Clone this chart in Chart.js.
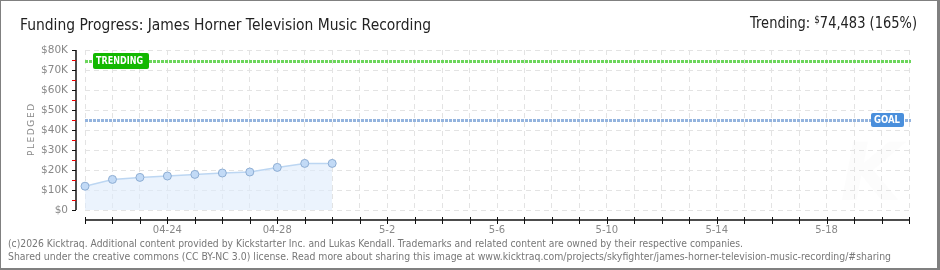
<!DOCTYPE html>
<html>
<head>
<meta charset="utf-8">
<script src="https://cdn.jsdelivr.net/npm/chart.js@4/dist/chart.umd.min.js"></script>
<style>
html,body{margin:0;padding:0;background:#fff;}
#wrap{position:relative;width:940px;height:270px;}
canvas{display:block;}
</style>
</head>
<body>
<div id="wrap"><canvas id="c" width="940" height="270"></canvas></div>
<script>
// ---- data ----
const days = ["04-21","04-22","04-23","04-24","04-25","04-26","04-27","04-28","04-29","04-30",
  "5-1","5-2","5-3","5-4","5-5","5-6","5-7","5-8","5-9","5-10","5-11","5-12","5-13","5-14",
  "5-15","5-16","5-17","5-18","5-19","5-20","5-21"];
const shownTicks = ["04-24","04-28","5-2","5-6","5-10","5-14","5-18"];
const pledged = [11900, 15300, 16300, 17000, 17800, 18500, 19000, 21300, 23300, 23300];
const goal = 45000;
const trending = 74483;
const trendingPct = 165;
const yTicks = [0,10000,20000,30000,40000,50000,60000,70000,80000];

const title = "Funding Progress: James Horner Television Music Recording";
const footer1 = "(c)2026 Kicktraq. Additional content provided by Kickstarter Inc. and Lukas Kendall. Trademarks and related content are owned by their respective companies.";
const footer2 = "Shared under the creative commons (CC BY-NC 3.0) license. Read more about sharing this image at www.kicktraq.com/projects/skyfighter/james-horner-television-music-recording/#sharing";

const AXIS_X = 76, XAXIS_Y = 220;

function roundRect(ctx,x,y,w,h,r){
  ctx.beginPath();
  ctx.moveTo(x+r,y);ctx.lineTo(x+w-r,y);ctx.quadraticCurveTo(x+w,y,x+w,y+r);
  ctx.lineTo(x+w,y+h-r);ctx.quadraticCurveTo(x+w,y+h,x+w-r,y+h);
  ctx.lineTo(x+r,y+h);ctx.quadraticCurveTo(x,y+h,x,y+h-r);
  ctx.lineTo(x,y+r);ctx.quadraticCurveTo(x,y,x+r,y);ctx.closePath();
}
function spacedText(ctx,text,x,y,sp){
  let cx=x;
  for(const ch of text){ctx.fillText(ch,cx,y);cx+=ctx.measureText(ch).width+sp;}
  return cx;
}
function spacedWidth(ctx,text,sp){let w=0;for(const ch of text){w+=ctx.measureText(ch).width+sp;}return w-sp;}
function fitText(ctx,text,x,y,w){
  const tw=ctx.measureText(text).width;
  if(tw<=w){ctx.fillText(text,x,y);return;}
  ctx.save();ctx.translate(x,y);ctx.scale(w/tw,1);ctx.fillText(text,0,0);ctx.restore();
}

const deco = {
  id:'deco',
  beforeDraw(chart){
    const ctx=chart.ctx;
    ctx.save();
    ctx.fillStyle='#fff';ctx.fillRect(0,0,940,270);
    // watermark
    ctx.font='italic bold 80px "DejaVu Sans"';
    ctx.fillStyle='rgba(0,0,0,0.012)';
    ctx.fillText('K',840,200);
    // title
    ctx.fillStyle='#222';
    ctx.font='16px "DejaVu Sans"';
    ctx.textBaseline='alphabetic';
    fitText(ctx,title,20,30,411);
    // trending top right
    const p1='Trending: ', p2=trending.toLocaleString('en-US')+' ('+trendingPct+'%)';
    ctx.font='10px "DejaVu Sans"';
    const wd=ctx.measureText('$').width;
    ctx.font='15px "DejaVu Sans"';
    const w1=ctx.measureText(p1).width, w2=ctx.measureText(p2).width;
    const total=w1+wd+w2, scale=Math.min(1,167/total);
    ctx.save();
    ctx.translate(917-total*scale,28);ctx.scale(scale,1);
    ctx.fillText(p1,0,0);
    ctx.font='10px "DejaVu Sans"';ctx.fillText('$',w1,-5);
    ctx.font='15px "DejaVu Sans"';ctx.fillText(p2,w1+wd,0);
    ctx.restore();
    // footer
    ctx.fillStyle='#777';
    ctx.font='10px "DejaVu Sans"';
    fitText(ctx,footer1,8,247,735);
    fitText(ctx,footer2,8,260,883);
    // y axis title
    ctx.save();
    ctx.translate(34,130);ctx.rotate(-Math.PI/2);
    ctx.font='9px "DejaVu Sans"';ctx.fillStyle='#888';
    const tw=spacedWidth(ctx,'PLEDGED',1.6);
    spacedText(ctx,'PLEDGED',-tw/2,0,1.6);
    ctx.restore();
    ctx.restore();
  },
  beforeDatasetsDraw(chart){
    const ctx=chart.ctx, ca=chart.chartArea, y=chart.scales.y;
    ctx.save();
    const lines=[[trending,'#6cd65c'],[goal,'#94b4de']];
    for(const [v,col] of lines){
      const py=Math.round(y.getPixelForValue(v));
      ctx.strokeStyle=col;ctx.lineWidth=3;ctx.setLineDash([3,1]);
      ctx.beginPath();ctx.moveTo(ca.left,py+0.5);ctx.lineTo(ca.right+2,py+0.5);ctx.stroke();
    }
    ctx.restore();
  },
  afterDatasetsDraw(chart){
    const ctx=chart.ctx, ca=chart.chartArea, y=chart.scales.y, x=chart.scales.x;
    ctx.save();
    ctx.setLineDash([]);
    // labels
    const ty=Math.round(y.getPixelForValue(trending));
    ctx.fillStyle='#12b800';
    roundRect(ctx,93,ty-8,56,16,2);ctx.fill();
    ctx.fillStyle='#fff';ctx.font='bold 10px "DejaVu Sans"';ctx.textBaseline='middle';
    fitText(ctx,'TRENDING',96,ty+0.5,47);
    const gy=Math.round(y.getPixelForValue(goal));
    ctx.fillStyle='#4a8fdc';
    roundRect(ctx,871,gy-7,33,14,2);ctx.fill();
    ctx.fillStyle='#fff';
    fitText(ctx,'GOAL',874,gy+0.5,26);
    // y axis
    ctx.strokeStyle='#111';ctx.lineWidth=1.5;
    ctx.beginPath();ctx.moveTo(AXIS_X,y.getPixelForValue(80000));ctx.lineTo(AXIS_X,y.getPixelForValue(0));ctx.stroke();
    ctx.lineWidth=1;
    for(let v=0; v<=80000; v+=5000){
      const py=Math.round(y.getPixelForValue(v))+0.5;
      ctx.strokeStyle=(v%10000===0)?'#111':'#e00';
      ctx.beginPath();ctx.moveTo(AXIS_X-4,py);ctx.lineTo(AXIS_X,py);ctx.stroke();
    }
    // x axis
    ctx.strokeStyle='#111';ctx.lineWidth=1.5;
    const x0=x.getPixelForValue(0), x1=x.getPixelForValue(days.length-1);
    ctx.beginPath();ctx.moveTo(x0,XAXIS_Y);ctx.lineTo(x1+1,XAXIS_Y);ctx.stroke();
    ctx.lineWidth=1;
    for(let i=0;i<days.length;i++){
      const px=Math.round(x.getPixelForValue(i))+0.5;
      ctx.beginPath();ctx.moveTo(px,XAXIS_Y-3);ctx.lineTo(px,XAXIS_Y+4);ctx.stroke();
    }
    // frame
    ctx.fillStyle='#808080';
    ctx.fillRect(0,0,940,1);ctx.fillRect(0,0,1,270);
    ctx.fillRect(937,0,3,270);ctx.fillRect(0,268,940,2);
    ctx.restore();
  }
};

new Chart(document.getElementById('c'),{
  type:'line',
  data:{
    labels:days,
    datasets:[{
      data:pledged,
      borderColor:'#bcd6f2',
      borderWidth:1.5,
      backgroundColor:'rgba(222,235,251,0.6)',
      fill:'origin',
      tension:0,
      pointRadius:4,
      pointBackgroundColor:'#c2daf6',
      pointBorderColor:'#8eaed4',
      pointBorderWidth:1
    }]
  },
  options:{
    responsive:false,
    animation:false,
    events:[],
    layout:{padding:{left:0,top:50,right:31,bottom:0}},
    plugins:{legend:{display:false},tooltip:{enabled:false},title:{display:false}},
    scales:{
      x:{
        type:'category',
        offset:false,
        border:{display:false,dash:[5,4]},
        grid:{color:'#e3e3e3',lineWidth:1,drawTicks:false},
        ticks:{
          autoSkip:false,maxRotation:0,padding:14,color:'#888',
          font:{family:'"DejaVu Sans"',size:10},
          callback:function(v,i){const d=days[i];return shownTicks.includes(d)?d:'';}
        },
        afterFit(s){s.height=60;}
      },
      y:{
        min:0,max:80000,
        border:{display:false,dash:[5,4]},
        grid:{color:'#e3e3e3',lineWidth:1,drawTicks:false},
        afterBuildTicks(s){s.ticks=yTicks.map(v=>({value:v}));},
        ticks:{
          padding:17,color:'#888',
          font:{family:'"DejaVu Sans"',size:10.5},
          callback:v=>'$'+(v===0?'0':(v/1000)+'K')
        },
        afterFit(s){s.width=85;}
      }
    }
  },
  plugins:[deco]
});
</script>
</body>
</html>
